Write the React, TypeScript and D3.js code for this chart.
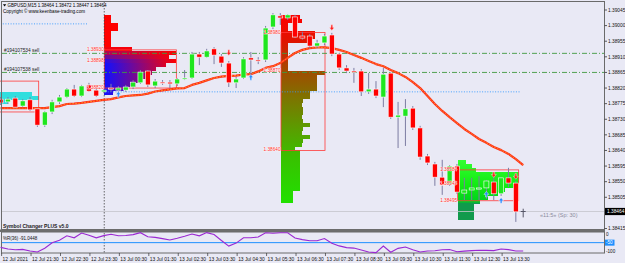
import React from "react";
import * as d3 from "d3";

// GBPUSD M15, bars from 12 Jul 20:30 to 13 Jul 14:15
const barOpen = [
  1.38788, 1.3878, 1.38791, 1.38768, 1.38786, 1.3876, 1.38713, 1.38751, 1.3878, 1.38794,
  1.38817, 1.38797, 1.38829, 1.38814, 1.38809, 1.3882, 1.38814, 1.38814, 1.38823, 1.38835,
  1.38869, 1.38826, 1.38837, 1.38837, 1.38832, 1.38847, 1.38849, 1.38918, 1.38909, 1.38933,
  1.38912, 1.38892, 1.38835, 1.38849, 1.38907, 1.38901, 1.38901, 1.38996, 1.39028, 1.39022,
  1.39025, 1.3897, 1.3897, 1.38941, 1.3895, 1.38973, 1.38918, 1.38878, 1.38869, 1.38869,
  1.38809, 1.38817, 1.38794, 1.38863, 1.38736, 1.38739, 1.38762, 1.38705, 1.38624, 1.38601,
  1.38563, 1.38543, 1.38595, 1.38517, 1.38526, 1.3853, 1.38532, 1.38549, 1.38515, 1.38561,
  1.38546, 1.38464,
];
const barHigh = [
  1.38794, 1.38794, 1.38797, 1.38788, 1.38794, 1.38762, 1.38754, 1.38786, 1.388, 1.3882,
  1.38829, 1.38829, 1.38835, 1.3882, 1.3882, 1.38832, 1.38826, 1.38829, 1.38843, 1.38872,
  1.38872, 1.38846, 1.38843, 1.38843, 1.38849, 1.38872, 1.38924, 1.38924, 1.38933, 1.38938,
  1.38918, 1.38898, 1.38852, 1.38909, 1.38924, 1.38909, 1.38999, 1.39036, 1.39036, 1.39033,
  1.39031, 1.38982, 1.38976, 1.38959, 1.38976, 1.38979, 1.38921, 1.38886, 1.38878, 1.38875,
  1.38863, 1.3884, 1.38878, 1.38866, 1.3878, 1.38788, 1.38768, 1.38711, 1.3863, 1.38607,
  1.38613, 1.38598, 1.38601, 1.38561, 1.38561, 1.38566, 1.38555, 1.38566, 1.38563, 1.3859,
  1.38552, 1.38472,
];
const barLow = [
  1.38771, 1.38774, 1.38762, 1.38765, 1.38754, 1.38708, 1.38708, 1.38745, 1.38774, 1.38791,
  1.38794, 1.38794, 1.38809, 1.38794, 1.38806, 1.38809, 1.38806, 1.38809, 1.38817, 1.38832,
  1.38823, 1.3882, 1.38829, 1.3882, 1.38826, 1.38843, 1.38846, 1.38886, 1.38907, 1.38889,
  1.38881, 1.38823, 1.3882, 1.38846, 1.38858, 1.38889, 1.38895, 1.3899, 1.39002, 1.39016,
  1.38964, 1.38959, 1.38935, 1.38935, 1.38944, 1.38912, 1.38872, 1.38863, 1.38835, 1.38797,
  1.38803, 1.38791, 1.38765, 1.38731, 1.38647, 1.38653, 1.38699, 1.38613, 1.38598, 1.38538,
  1.38512, 1.38538, 1.38515, 1.38497, 1.38497, 1.38497, 1.385, 1.38497, 1.38509, 1.38535,
  1.38434, 1.38447,
];
const barClose = [
  1.38777, 1.38788, 1.38765, 1.38783, 1.38757, 1.38713, 1.38751, 1.3878, 1.38794, 1.38817,
  1.38797, 1.38826, 1.38811, 1.38797, 1.38814, 1.38818, 1.3882, 1.38823, 1.38837, 1.38866,
  1.38829, 1.3884, 1.38835, 1.38832, 1.38846, 1.38849, 1.38918, 1.38909, 1.38927, 1.38915,
  1.38892, 1.38835, 1.38846, 1.38904, 1.38901, 1.38899, 1.38993, 1.39031, 1.39022, 1.39031,
  1.38967, 1.38964, 1.38941, 1.3895, 1.3897, 1.38918, 1.38878, 1.38869, 1.38867, 1.38809,
  1.38817, 1.38797, 1.3886, 1.38736, 1.38742, 1.3876, 1.38705, 1.38621, 1.38604, 1.38563,
  1.3854, 1.38595, 1.3852, 1.38526, 1.38532, 1.38532, 1.38552, 1.38515, 1.38561, 1.38546,
  1.38463, 1.38464,
];
const maValues = [
  1.38762, 1.38762, 1.38762, 1.38762, 1.38762, 1.38762, 1.38762, 1.38765, 1.38768, 1.38774,
  1.38775, 1.38777, 1.3878, 1.38783, 1.38786, 1.38788, 1.38793, 1.38797, 1.38799, 1.388,
  1.38804, 1.3881, 1.38813, 1.38816, 1.38819, 1.3882, 1.38829, 1.38835, 1.38842, 1.38849,
  1.38853, 1.38855, 1.38856, 1.38859, 1.3886, 1.38868, 1.38878, 1.38883, 1.38892, 1.38907,
  1.38921, 1.3893, 1.38935, 1.38937, 1.38937, 1.38935, 1.3893, 1.38924, 1.38915, 1.38907,
  1.38898, 1.38889, 1.38883, 1.38872, 1.38863, 1.38852, 1.38837, 1.3882, 1.38797, 1.38774,
  1.38754, 1.38736, 1.38719, 1.38702, 1.38688, 1.38673, 1.38662, 1.3865, 1.38641, 1.3863,
  1.38615, 1.38598,
];
const wprValues = [
  -73.4, -81.3, -84.7, -83.3, -91.1, -96.1, -77.8, -50.2, -37.9, -16.3,
  -26.1, -2.5, -13.8, -26.1, -15.3, -8.4, -15.8, -14.8, -10.3, -1.0,
  -21.2, -24.1, -30.0, -37.0, -28.6, -18.7, -7.4, -16.3, -0.5, -9.9,
  -39.4, -67.0, -52.2, -25.6, -25.6, -22.2, -1.0, -4.0, -1.0, -1.0,
  -27.0, -35.0, -40.4, -40.4, -29.6, -52.7, -66.0, -74.4, -76.8, -86.2,
  -96.0, -99.0, -66.5, -97.5, -78.0, -71.4, -85.2, -96.0, -91.1, -90.1,
  -85.2, -83.7, -94.6, -91.6, -89.2, -87.2, -88.2, -89.2, -81.3, -84.2,
  -91.1, -91.0448,
];

const timeLabels = [
  "12 Jul 2021", "12 Jul 21:30", "12 Jul 22:30", "12 Jul 23:30", "13 Jul 00:30",
  "13 Jul 01:30", "13 Jul 02:30", "13 Jul 03:30", "13 Jul 04:30", "13 Jul 05:30",
  "13 Jul 06:30", "13 Jul 07:30", "13 Jul 08:30", "13 Jul 09:30", "13 Jul 10:30",
  "13 Jul 11:30", "13 Jul 12:30", "13 Jul 13:30",
];
const timeLabelBars = [0, 4, 8, 12, 16, 20, 24, 28, 32, 36, 40, 44, 48, 52, 56, 60, 64, 68];
const priceTicks = [
  1.39045, 1.39, 1.38955, 1.3891, 1.38865, 1.3882, 1.38775, 1.3873, 1.38685, 1.3864,
  1.38595, 1.3855, 1.38505, 1.38415,
];
const currentPrice = 1.38464;

const orderPrices = [1.3892, 1.38865];
const orderLabels = ["#194107534 sell", "#194107538 sell"];
const dottedPrices = [1.39005, 1.38809];
const dottedFromBar = [0.3, 14.2];
const dottedToBar = [11.9, 70.6];

const sellBars = [31, 45, 67, 70];
const sellPrices = [1.38921, 1.38993, 1.38569, 1.38564];
const buyBars = [16, 34, 66, 68];
const buyPrices = [1.38803, 1.38852, 1.38515, 1.38497];

// session volume profiles (6h sessions)
const rowStep = 0.000115;
const sessionStartBars = [-10, 14, 38, 62];
const profileTops = [1.38809, 1.39031, 1.39031, 1.38613];
const profileVol0 = [104, 111, 80];
const profileVol1 = [7, 7, 14, 14, 7, 7, 7, 7, 28, 72, 65, 72, 62, 52, 48, 44, 36, 32, 20, 9];
const profileVol2 = [
  19, 21, 7, 7, 34, 34, 29, 7, 7, 7, 7, 7, 7, 7, 44, 36, 36, 36, 36, 29, 29, 22, 21, 22,
  22, 21, 22, 29, 22, 21, 29, 22, 21, 14, 19, 19, 19, 19, 19, 19, 19, 19, 19, 19, 12, 12, 12,
];
const profileVol3 = [8, 14, 18, 61, 61, 61, 58, 47, 40, 30, 22, 16, 16, 16, 16];
const profileVols = [profileVol0, profileVol1, profileVol2, profileVol3];
const valueAreaHigh = [1.3884, 1.3893, 1.3898, 1.38584];
const pocPrices = [1.38798, 1.38898, 1.3887, 1.38543];
const valueAreaLow = [1.38751, 1.3882, 1.3864, 1.38495];

const FONT = "'Liberation Sans', Arial, sans-serif";

export default function App() {
  const x = d3.scaleLinear().domain([0, 71]).range([0.6, 523.2]);
  const y = d3.scaleLinear().domain([1.38415, 1.39045]).range([228.5, 10]);
  const yR = d3.scaleLinear().domain([-100, 0]).range([252.8, 232.5]);
  const vol = d3.scaleLinear().domain([0, 100]).range([0, 100]);

  const maLine = d3
    .line<number>()
    .x((_, i) => x(i))
    .y((d) => y(d));
  const wprLine = d3
    .line<number>()
    .x((_, i) => x(i))
    .y((d) => yR(d));

  const blueRed = d3.interpolateRgb("#ff0000", "#1010ff");

  const defs: React.ReactNode[] = [];
  const profileNodes: React.ReactNode[] = [];
  profileVols.forEach((vols, p) => {
    const left = x(sessionStartBars[p]) + 0.7;
    const maxW = vol(d3.max(vols) as number);
    const yTop = y(profileTops[p]);
    const yBot = y(profileTops[p] - rowStep * vols.length);
    if (p === 2) {
      defs.push(
        <linearGradient key="g2" id="vp2" gradientUnits="userSpaceOnUse" x1={0} x2={0} y1={yTop} y2={yBot}>
          <stop offset="0" stopColor="#ff0000" />
          <stop offset="0.14" stopColor="#e01400" />
          <stop offset="0.3" stopColor="#a04c00" />
          <stop offset="0.46" stopColor="#7a7800" />
          <stop offset="0.62" stopColor="#58a000" />
          <stop offset="0.78" stopColor="#36c400" />
          <stop offset="1" stopColor="#22e000" />
        </linearGradient>
      );
    }
    if (p === 3) {
      defs.push(
        <linearGradient key="g3" id="vp3" gradientUnits="userSpaceOnUse" x1={0} x2={0} y1={yTop} y2={yBot}>
          <stop offset="0" stopColor="#33ff33" />
          <stop offset="0.45" stopColor="#10ea10" />
          <stop offset="0.7" stopColor="#00d020" />
          <stop offset="0.73" stopColor="#119a4c" />
          <stop offset="1" stopColor="#119a4c" />
        </linearGradient>
      );
    }
    vols.forEach((v, r) => {
      const y0 = y(profileTops[p] - rowStep * r);
      const y1 = y(profileTops[p] - rowStep * (r + 1));
      let fill = "#30dede";
      if (p === 1) {
        const t = Math.max(0, Math.min(1, ((y0 + y1) / 2 - 48) / 14));
        const id = `vp1-${r}`;
        defs.push(
          <linearGradient key={id} id={id} gradientUnits="userSpaceOnUse" x1={left} x2={left + maxW} y1={0} y2={0}>
            <stop offset="0" stopColor={blueRed(t)} />
            <stop offset="1" stopColor="#ff0000" />
          </linearGradient>
        );
        fill = `url(#${id})`;
      } else if (p === 2) fill = "url(#vp2)";
      else if (p === 3) fill = "url(#vp3)";
      profileNodes.push(
        <rect
          key={`p${p}-${r}`}
          x={left}
          y={y0}
          width={vol(v)}
          height={y1 - y0 + 0.6}
          fill={fill}
          shapeRendering="crispEdges"
        />
      );
    });
    profileNodes.push(
      <rect
        key={`va${p}`}
        x={left}
        y={y(valueAreaHigh[p])}
        width={maxW}
        height={y(valueAreaLow[p]) - y(valueAreaHigh[p])}
        fill="none"
        stroke="#ff3a3a"
        strokeWidth={0.8}
      />
    );
  });

  const profileLabels: React.ReactNode[] = [];
  sessionStartBars.forEach((b, p) => {
    if (b < 0) return;
    const left = x(b) + 0.2;
    [valueAreaHigh[p], pocPrices[p], valueAreaLow[p]].forEach((pr, k) => {
      profileLabels.push(
        <text
          key={`pl${p}-${k}`}
          x={left}
          y={y(pr) + 1}
          textAnchor="end"
          fontSize={4.7}
          fontFamily={FONT}
          fill="#ff2a2a"
          stroke="#ffffff"
          strokeWidth={0.6}
          paintOrder="stroke"
        >
          {pr.toFixed(5)}
        </text>
      );
    });
  });

  const arrowDown = (cx: number, cy: number) =>
    `M${cx - 0.9},${cy - 3.2}h1.8v2.6h1.6l-2.5,3l-2.5,-3h1.6z`;
  const arrowUp = (cx: number, cy: number) =>
    `M${cx - 0.9},${cy + 3.2}h1.8v-2.6h1.6l-2.5,-3l-2.5,3h1.6z`;

  const bg = "#e9e9f5";

  return (
    <svg width={625} height={263} style={{ position: "absolute", left: 0, top: 0, display: "block" }}>
      <defs>{defs}</defs>
      <rect x={0} y={0} width={625} height={263} fill={bg} />
      <g>{profileNodes}</g>

      {/* current bid line */}
      <line x1={2} x2={604} y1={y(currentPrice)} y2={y(currentPrice)} stroke="#c4c4cc" strokeWidth={0.8} />

      {/* dotted levels */}
      {dottedPrices.map((pr, i) => (
        <line
          key={`d${i}`}
          x1={x(dottedFromBar[i])}
          x2={x(dottedToBar[i])}
          y1={y(pr)}
          y2={y(pr)}
          stroke="#3399ff"
          strokeWidth={0.9}
          strokeDasharray="1 1.6"
        />
      ))}

      {/* open orders */}
      {orderPrices.map((pr, i) => (
        <g key={`o${i}`}>
          <line
            x1={2}
            x2={604}
            y1={y(pr)}
            y2={y(pr)}
            stroke="#3f9a3f"
            strokeWidth={0.9}
            strokeDasharray="5 2 1 2"
          />
          <text x={4} y={y(pr) - 1.5} fontSize={4.8} fontFamily={FONT} fill="#1a1a1a">
            {orderLabels[i]}
          </text>
        </g>
      ))}

      {/* day separator */}
      <line x1={x(14) + 0.6} x2={x(14) + 0.6} y1={2} y2={253} stroke="#444" strokeWidth={0.8} strokeDasharray="1.5 1.5" />

      {/* moving average */}
      <path d={maLine(maValues) || ""} fill="none" stroke="#ff2a1a" strokeWidth={2.2} strokeLinejoin="round" />
      <path d={maLine(maValues) || ""} fill="none" stroke="#ffa020" strokeWidth={0.8} strokeDasharray="2 1" />

      {/* candles */}
      {barOpen.map((o, i) => {
        const c = barClose[i];
        const cx = x(i);
        const top = y(Math.max(o, c));
        const bot = y(Math.min(o, c));
        const doji = Math.abs(o - c) < 0.000005;
        const fill = c > o ? "#1ee61e" : "#ff0000";
        return (
          <g key={`c${i}`}>
            <line x1={cx} x2={cx} y1={y(barHigh[i])} y2={y(barLow[i])} stroke={doji ? "#555566" : "#7c7ca2"} strokeWidth={1} />
            {doji ? (
              <line x1={cx - 2.5} x2={cx + 2.5} y1={top} y2={top} stroke="#555566" strokeWidth={1} />
            ) : (
              <rect
                x={cx - 2.5}
                y={top}
                width={5}
                height={Math.max(1.2, bot - top)}
                fill={fill}
                stroke="#ffffff"
                strokeWidth={0.6}
              />
            )}
          </g>
        );
      })}

      {/* signals */}
      {sellBars.map((b, i) => (
        <path key={`s${i}`} d={arrowDown(x(b), y(sellPrices[i]))} fill="#ff2020" stroke="#ffffff" strokeWidth={0.4} />
      ))}
      {buyBars.map((b, i) => (
        <path key={`b${i}`} d={arrowUp(x(b), y(buyPrices[i]))} fill="#2a8cff" stroke="#ffffff" strokeWidth={0.4} />
      ))}

      {profileLabels}

      {/* header */}
      <path d="M3,4.2h3.2l-1.6,2.2z" fill="#000" />
      <text x={7.5} y={7} fontSize={4.5} fontFamily={FONT} fill="#000">
        GBPUSD,M15  1.38464 1.38472 1.38447 1.38464
      </text>
      <text x={3} y={13} fontSize={4.6} fontFamily={FONT} fill="#000">
        Copyright © www.keenbase-trading.com
      </text>
      <text x={540} y={217} fontSize={5.5} fontFamily={FONT} fill="#8a8a9c">
        «11:5» (Sp: 30)
      </text>
      <text x={3} y={227.5} fontSize={5} fontWeight="bold" fontFamily={FONT} fill="#222">
        Symbol Changer PLUS v5.0
      </text>

      {/* frames */}
      <rect x={1.5} y={1.5} width={603} height={228} fill="none" stroke="#6a6a6a" strokeWidth={1} />
      <rect x={0} y={229.5} width={605} height={2.5} fill="#6e6e6e" />
      <rect x={1.5} y={232} width={603} height={21} fill="none" stroke="#6a6a6a" strokeWidth={1} />

      {/* price axis */}
      {priceTicks.map((t) => (
        <g key={`pt${t}`}>
          <line x1={604.5} x2={607} y1={y(t)} y2={y(t)} stroke="#333" strokeWidth={0.8} />
          <text x={608} y={y(t) + 1.7} fontSize={4.8} fontFamily={FONT} fill="#111">
            {t.toFixed(5)}
          </text>
        </g>
      ))}
      <rect x={605} y={y(currentPrice) - 3.6} width={20} height={7.2} fill="#000" />
      <text x={607} y={y(currentPrice) + 1.7} fontSize={4.8} fontFamily={FONT} fill="#fff">
        {currentPrice.toFixed(5)}
      </text>

      {/* indicator window */}
      <text x={3} y={239.5} fontSize={4.5} fontFamily={FONT} fill="#111">
        %R(36) {wprValues[wprValues.length - 1].toFixed(4)}
      </text>
      <line x1={2} x2={604} y1={yR(-50)} y2={yR(-50)} stroke="#1e90ff" strokeWidth={1} />
      <path d={wprLine(wprValues) || ""} fill="none" stroke="#9a28d2" strokeWidth={1.1} />
      <text x={606} y={yR(0) + 3} fontSize={4.6} fontFamily={FONT} fill="#111">
        0
      </text>
      <rect x={605} y={yR(-50) - 3} width={9.5} height={6} fill="#1e90ff" />
      <text x={606} y={yR(-50) + 1.6} fontSize={4.6} fontFamily={FONT} fill="#fff">
        -50
      </text>
      <text x={606} y={yR(-100) + 0.5} fontSize={4.6} fontFamily={FONT} fill="#111">
        -100
      </text>

      {/* time axis */}
      {timeLabelBars.map((b, i) => (
        <g key={`tl${b}`}>
          <line x1={x(b) + 1} x2={x(b) + 1} y1={253} y2={256} stroke="#333" strokeWidth={0.7} />
          <text x={x(b) + 2} y={260.5} fontSize={4.9} fontFamily={FONT} fill="#111">
            {timeLabels[i]}
          </text>
        </g>
      ))}
    </svg>
  );
}
